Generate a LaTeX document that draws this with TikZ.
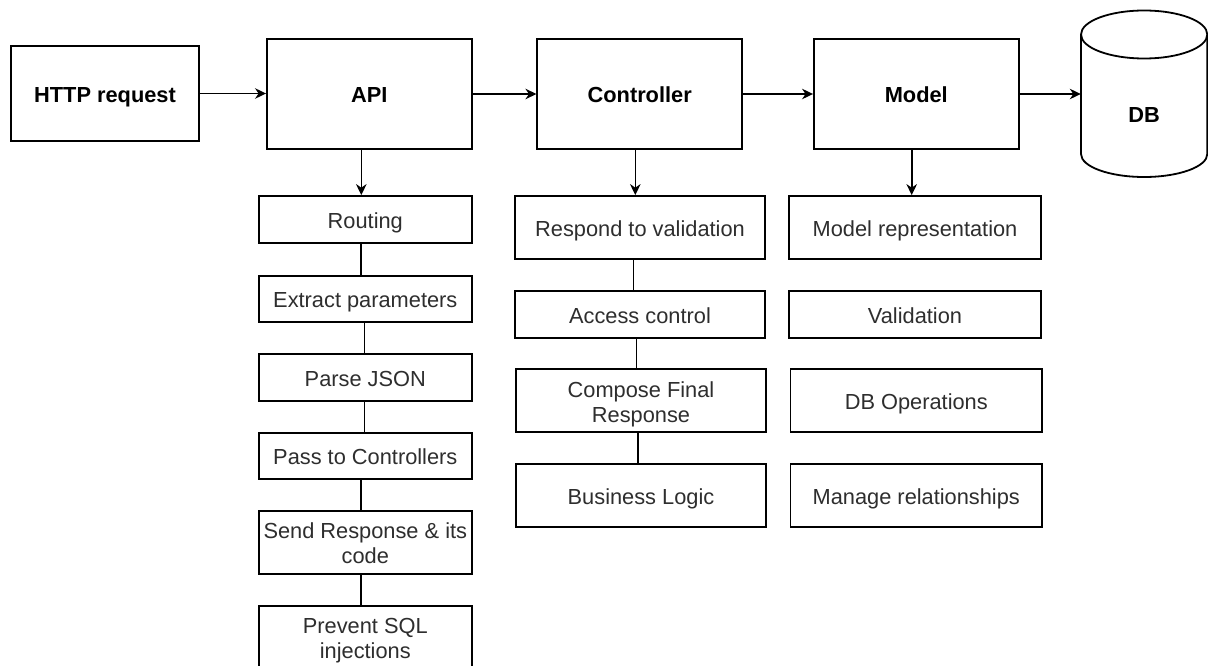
\documentclass[tikz,border=0pt]{standalone}
\usepackage{fontspec}
\setmainfont{Liberation Sans}
\usetikzlibrary{arrows.meta,calc}
\newcommand{\linestrut}{\rule[-5pt]{0pt}{27.5pt}}
\begin{document}
\begin{tikzpicture}[x=1pt,y=-1pt,
  mainbox/.style={draw, line width=1.8pt, font=\bfseries\fontsize{21.8}{25}\selectfont, inner sep=0pt, align=center,
    execute at begin node=\linestrut, execute at end node=\linestrut},
  subbox/.style={draw, line width=1.8pt, font=\fontsize{21.8}{25}\selectfont, text=black!82, align=center, inner sep=0pt,
    execute at begin node=\linestrut, execute at end node=\linestrut},
  colone/.style={subbox, minimum width=212.7pt},
  coltwo/.style={subbox, minimum width=250.5pt},
  colthree/.style={subbox, minimum width=251.5pt},
  arr/.style={line width=1.6pt, -{Stealth[length=11pt,width=10.5pt,inset=3.5pt]}},
  link/.style={line width=1.6pt},
  cyl/.style={line width=1.8pt}]
\fill[white] (0,0) rectangle (1208,666);
\useasboundingbox (0,0) rectangle (1208,666);

% main row
\node[mainbox, minimum width=188.6pt, minimum height=95pt] (http) at (105,93.5) {HTTP request};
\node[mainbox, minimum width=204.7pt, minimum height=110pt] (api) at (369.3,94) {API};
\node[mainbox, minimum width=204.7pt, minimum height=110pt] (ctrl) at (639.7,94) {Controller};
\node[mainbox, minimum width=204.7pt, minimum height=110pt] (model) at (916.3,94) {Model};

% DB cylinder
\node[minimum width=126.3pt, minimum height=166pt, inner sep=0pt] (db) at (1144.15,93.7) {};
\draw[cyl, fill=white] (1081,34.5) -- (1081,154) arc[start angle=180, end angle=0, x radius=63.15, y radius=23] -- (1207.3,34.5);
\draw[cyl, fill=white] (1144.15,34.5) ellipse[x radius=63.15, y radius=24];
\node[font=\bfseries\fontsize{21.8}{25}\selectfont] (dblabel) at (1144.15,115) {DB};

% column 1
\node[colone, minimum height=47.3pt] (routing) at (365.3,219.7) {Routing};
\node[colone, minimum height=46.3pt] (extract) at (365.3,298.8) {Extract parameters};
\node[colone, minimum height=47pt] (parse) at (365.3,377.5) {Parse JSON};
\node[colone, minimum height=46.6pt] (pass) at (365.3,456) {Pass to Controllers};
\node[colone, minimum height=63.3pt] (send) at (365.3,542.7) {\linestrut Send Response \& its\\code};
\node[colone, minimum height=63.3pt] (prevent) at (365.3,637.4) {\linestrut Prevent SQL\\injections};

% column 2
\node[coltwo, minimum height=63.3pt] (respond) at (640,227.7) {Respond to validation};
\node[coltwo, minimum height=47.3pt] (access) at (640,314.3) {Access control};
\node[coltwo, minimum height=63pt] (compose) at (641,400.8) {\linestrut Compose Final\\Response};
\node[coltwo, minimum height=62.7pt] (business) at (641,495.3) {Business Logic};

% column 3
\node[colthree, minimum height=63.3pt] (mrep) at (915,227.7) {Model representation};
\node[colthree, minimum height=47.3pt] (valid) at (915,314.3) {Validation};
\node[colthree, minimum height=63pt] (dbops) at (916.3,400.8) {DB Operations};
\node[colthree, minimum height=62.7pt] (manage) at (916.3,495.3) {Manage relationships};

% horizontal arrows
\draw[arr] (http.east) -- (http.east -| api.west);
\draw[arr] (api.east) -- (ctrl.west);
\draw[arr] (ctrl.east) -- (model.west);
\draw[arr] (model.east) -- (model.east -| db.west);

% down arrows
\draw[arr] ([xshift=-8pt]api.south) -- ([xshift=-8pt]api.south |- routing.north);
\draw[arr] ([xshift=-4.4pt]ctrl.south) -- ([xshift=-4.4pt]ctrl.south |- respond.north);
\draw[arr] ([xshift=-4.6pt]model.south) -- ([xshift=-4.6pt]model.south |- mrep.north);

% column 1 links
\draw[link] ([xshift=-4.3pt]routing.south) -- ([xshift=-4.3pt]routing.south |- extract.north);
\draw[link] ([xshift=-1pt]extract.south) -- ([xshift=-1pt]extract.south |- parse.north);
\draw[link] ([xshift=-1pt]parse.south) -- ([xshift=-1pt]parse.south |- pass.north);
\draw[link] ([xshift=-4.3pt]pass.south) -- ([xshift=-4.3pt]pass.south |- send.north);
\draw[link] ([xshift=-4.3pt]send.south) -- ([xshift=-4.3pt]send.south |- prevent.north);

% column 2 links
\draw[link] ([xshift=-6.7pt]respond.south) -- ([xshift=-6.7pt]respond.south |- access.north);
\draw[link] ([xshift=-3.7pt]access.south) -- ([xshift=-3.7pt]access.south |- compose.north);
\draw[link] ([xshift=-3pt]compose.south) -- ([xshift=-3pt]compose.south |- business.north);
\end{tikzpicture}
\end{document}
